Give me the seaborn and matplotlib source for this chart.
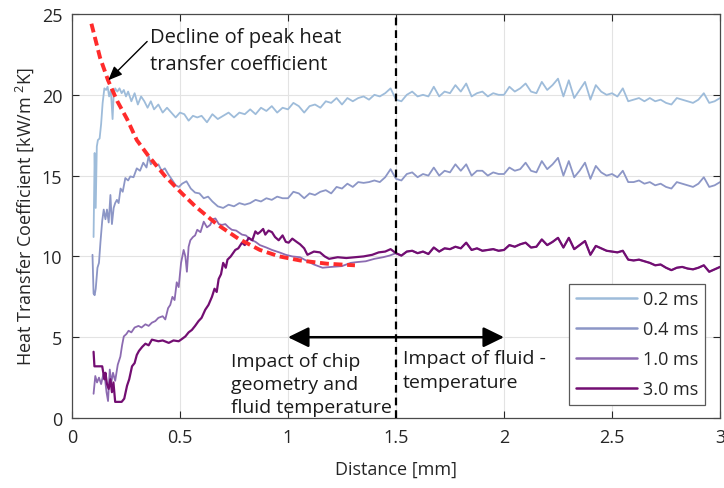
import numpy as np
import pandas as pd
import seaborn as sns
import matplotlib
matplotlib.use("Agg")
import matplotlib.pyplot as plt
from matplotlib.ticker import FuncFormatter

# ---- data ----
series_names = ["0.2 ms", "0.4 ms", "1.0 ms", "3.0 ms"]
series_colors = ["#9ebcda", "#8c96c6", "#8c6bb1", "#730e72"]

# shared x positions for the part right of the 1.5 mm line
dist_tail = [1.500, 1.525, 1.550, 1.575, 1.600, 1.625, 1.650, 1.675, 1.700, 1.725,
             1.750, 1.775, 1.800, 1.825, 1.850, 1.875, 1.900, 1.925, 1.950, 1.975,
             2.000, 2.025, 2.050, 2.075, 2.100, 2.125, 2.150, 2.175, 2.200, 2.225,
             2.250, 2.275, 2.300, 2.325, 2.350, 2.375, 2.400, 2.425, 2.450, 2.475,
             2.500, 2.525, 2.550, 2.575, 2.600, 2.625, 2.650, 2.675, 2.700, 2.725,
             2.750, 2.775, 2.800, 2.825, 2.850, 2.875, 2.900, 2.925, 2.950, 2.975,
             3.000]

# 0.2 ms
dist_02 = [0.100, 0.105, 0.110, 0.115, 0.120, 0.128, 0.135, 0.142, 0.150, 0.158,
           0.165, 0.172, 0.180, 0.188, 0.193, 0.200, 0.210, 0.220, 0.230, 0.240,
           0.250, 0.260, 0.275, 0.290, 0.305, 0.320, 0.335, 0.350, 0.365, 0.380,
           0.400, 0.420, 0.440, 0.460, 0.480, 0.500, 0.520, 0.540, 0.560, 0.580,
           0.600, 0.625, 0.650, 0.675, 0.700, 0.725, 0.750, 0.775, 0.800, 0.825,
           0.850, 0.875, 0.900, 0.925, 0.950, 0.975, 1.000, 1.025, 1.050, 1.075,
           1.100, 1.125, 1.150, 1.175, 1.200, 1.225, 1.250, 1.275, 1.300, 1.325,
           1.350, 1.375, 1.400, 1.425, 1.450, 1.475]
htc_02 = [11.2, 16.4, 13.0, 16.8, 17.2, 17.3, 18.2, 19.5, 20.4, 20.3,
          20.5, 19.9, 20.3, 18.5, 20.0, 20.4, 20.2, 20.4, 20.1, 20.3,
          19.9, 20.2, 19.6, 20.1, 19.4, 19.9, 19.6, 19.2, 19.6, 19.1,
          19.4, 18.9, 19.2, 18.9, 18.6, 18.9, 18.8, 18.4, 18.7, 18.6,
          18.7, 18.3, 18.8, 18.5, 18.7, 18.9, 18.6, 18.9, 18.8, 19.1,
          18.8, 19.2, 19.0, 19.3, 18.9, 19.2, 19.1, 19.5, 19.3, 18.9,
          19.3, 19.4, 19.2, 19.6, 19.5, 19.8, 19.4, 19.8, 19.6, 19.8,
          19.9, 19.7, 20.0, 19.9, 20.1, 20.4]
htc_02_tail = [19.7, 19.6, 20.0, 20.2, 19.9, 20.0, 19.9, 20.5, 19.9, 20.2,
               20.1, 20.6, 20.2, 20.7, 19.9, 20.1, 20.2, 19.9, 20.1, 20.0,
               20.0, 20.5, 20.2, 20.4, 20.7, 20.2, 20.1, 20.8, 20.3, 20.6,
               21.0, 19.9, 20.9, 19.8, 20.3, 20.8, 19.7, 20.6, 20.2, 20.0,
               20.1, 19.9, 20.4, 19.6, 19.7, 19.8, 19.6, 19.8, 19.6, 19.7,
               19.5, 19.4, 19.8, 19.7, 19.6, 19.5, 19.7, 20.1, 19.5, 19.6,
               19.8]

# 0.4 ms
dist_04 = [0.095, 0.100, 0.105, 0.110, 0.118, 0.125, 0.132, 0.140, 0.147, 0.155,
           0.162, 0.170, 0.178, 0.185, 0.193, 0.200, 0.208, 0.216, 0.225, 0.235,
           0.247, 0.260, 0.270, 0.285, 0.300, 0.315, 0.330, 0.345, 0.355, 0.365,
           0.376, 0.390, 0.400, 0.415, 0.430, 0.445, 0.463, 0.480, 0.495, 0.510,
           0.530, 0.550, 0.570, 0.590, 0.610, 0.630, 0.650, 0.675, 0.700, 0.725,
           0.750, 0.775, 0.800, 0.825, 0.850, 0.875, 0.900, 0.925, 0.950, 0.975,
           1.000, 1.025, 1.050, 1.075, 1.100, 1.125, 1.150, 1.175, 1.200, 1.225,
           1.250, 1.275, 1.300, 1.325, 1.350, 1.375, 1.400, 1.425, 1.450, 1.475]
htc_04 = [10.1, 7.7, 7.6, 8.0, 9.3, 9.6, 10.9, 12.2, 12.9, 12.3,
          12.9, 12.1, 13.8, 12.0, 13.0, 13.3, 13.5, 13.3, 14.2, 14.0,
          14.85, 14.7, 14.95, 14.9, 15.45, 15.3, 15.8, 15.5, 16.2, 15.7,
          15.95, 15.6, 15.7, 15.3, 15.45, 15.1, 14.75, 14.4, 14.3, 14.5,
          14.65, 14.2, 13.95, 13.9, 13.6, 13.7, 13.4, 13.1, 13.0, 13.2,
          13.1, 13.3, 13.2, 13.3, 13.5, 13.4, 13.6, 13.5, 13.7, 13.6,
          13.6, 14.0, 13.9, 13.6, 13.9, 13.8, 14.0, 14.1, 13.9, 14.3,
          14.2, 14.5, 14.3, 14.6, 14.55, 14.6, 14.7, 14.6, 14.9, 15.4]
htc_04_tail = [14.8, 14.7, 15.1, 15.2, 14.9, 15.1, 15.0, 15.5, 15.0, 15.3,
               15.2, 15.7, 15.3, 15.7, 15.0, 15.3, 15.3, 15.0, 15.2, 15.1,
               15.1, 15.5, 15.3, 15.4, 15.8, 15.3, 15.2, 15.9, 15.4, 15.7,
               16.1, 15.0, 15.9, 14.9, 15.3, 15.8, 14.8, 15.6, 15.2, 15.0,
               15.1, 14.9, 15.3, 14.6, 14.6, 14.7, 14.5, 14.6, 14.4, 14.5,
               14.3, 14.2, 14.6, 14.5, 14.4, 14.3, 14.5, 14.9, 14.3, 14.4,
               14.6]

# 1.0 ms
dist_10 = [0.100, 0.108, 0.116, 0.125, 0.135, 0.145, 0.154, 0.160, 0.167, 0.175,
           0.182, 0.190, 0.200, 0.212, 0.224, 0.232, 0.240, 0.252, 0.262, 0.275,
           0.290, 0.308, 0.322, 0.340, 0.355, 0.370, 0.386, 0.400, 0.420, 0.432,
           0.445, 0.455, 0.465, 0.475, 0.485, 0.494, 0.505, 0.517, 0.525, 0.532,
           0.540, 0.548, 0.560, 0.570, 0.580, 0.595, 0.610, 0.625, 0.640, 0.652,
           0.664, 0.680, 0.694, 0.710, 0.725, 0.740, 0.760, 0.787, 0.805, 0.826,
           0.850, 0.870, 0.900, 0.926, 0.960, 0.990, 1.020, 1.056, 1.090, 1.120,
           1.160, 1.200, 1.250, 1.290, 1.320, 1.360, 1.400, 1.440, 1.470]
htc_10 = [1.5, 2.6, 2.2, 2.5, 2.1, 2.7, 2.3, 1.6, 1.05, 3.0,
          2.2, 2.8, 2.3, 3.3, 3.8, 4.5, 5.05, 5.2, 5.4, 5.3,
          5.6, 5.7, 5.6, 5.8, 5.7, 5.9, 6.0, 6.2, 6.3, 6.1,
          6.8, 7.0, 7.5, 7.3, 8.4, 8.1, 9.6, 10.4, 10.0, 9.05,
          10.6, 11.0, 11.2, 11.3, 11.65, 11.5, 12.15, 11.8, 11.95, 12.3,
          12.35, 12.0, 11.95, 12.0, 11.8, 11.65, 11.6, 11.35, 11.3, 11.05,
          10.9, 10.7, 10.55, 10.4, 10.25, 10.1, 10.0, 9.95, 9.7, 9.5,
          9.3, 9.35, 9.4, 9.6, 9.65, 9.7, 9.85, 9.95, 10.05]

# 3.0 ms (1.0 ms lies under it right of 1.5 mm)
dist_30 = [0.100, 0.104, 0.110, 0.120, 0.130, 0.140, 0.150, 0.155, 0.162, 0.170,
           0.178, 0.185, 0.192, 0.200, 0.215, 0.230, 0.242, 0.255, 0.265, 0.278,
           0.290, 0.300, 0.310, 0.325, 0.340, 0.355, 0.370, 0.385, 0.400, 0.420,
           0.448, 0.470, 0.494, 0.510, 0.525, 0.540, 0.555, 0.570, 0.586, 0.600,
           0.617, 0.632, 0.648, 0.660, 0.670, 0.679, 0.690, 0.700, 0.712, 0.720,
           0.735, 0.756, 0.770, 0.787, 0.800, 0.818, 0.835, 0.849, 0.860, 0.870,
           0.885, 0.895, 0.910, 0.926, 0.940, 0.957, 0.975, 0.990, 1.003, 1.020,
           1.040, 1.056, 1.075, 1.090, 1.120, 1.148, 1.170, 1.190, 1.230, 1.270,
           1.310, 1.350, 1.390, 1.420, 1.450, 1.475]
htc_30 = [4.1, 3.2, 3.2, 3.2, 3.2, 3.2, 2.4, 2.8, 2.1, 1.8,
          2.4, 1.6, 2.2, 1.0, 1.0, 1.0, 1.2, 2.0, 2.4, 3.2,
          3.4, 3.9, 4.15, 4.4, 4.6, 4.5, 4.85, 4.8, 4.75, 4.8,
          4.65, 4.8, 4.75, 4.9, 5.05, 5.3, 5.45, 5.7, 6.0, 6.2,
          6.7, 7.0, 7.5, 8.0, 7.8, 8.6, 8.9, 9.6, 9.3, 9.8,
          10.0, 10.4, 10.5, 10.85, 10.7, 11.15, 11.0, 11.55, 11.4, 11.5,
          11.7, 11.35, 11.6, 11.5, 11.2, 11.0, 11.3, 10.9, 10.85, 11.1,
          10.9, 10.75, 10.5, 10.1, 10.3, 10.25, 10.0, 9.85, 9.95, 9.9,
          9.95, 10.0, 10.1, 10.25, 10.3, 10.45]
htc_30_tail = [10.2, 10.05, 10.3, 10.35, 10.2, 10.3, 10.15, 10.55, 10.3, 10.5,
               10.45, 10.6, 10.5, 10.85, 10.4, 10.5, 10.35, 10.4, 10.45, 10.35,
               10.4, 10.7, 10.6, 10.75, 10.85, 10.55, 10.6, 11.05, 10.7, 10.9,
               11.15, 10.55, 11.15, 10.45, 10.7, 10.95, 10.1, 10.65, 10.5, 10.35,
               10.3, 10.25, 10.35, 9.8, 9.75, 9.8, 9.7, 9.6, 9.45, 9.5,
               9.3, 9.15, 9.3, 9.35, 9.25, 9.2, 9.3, 9.45, 9.05, 9.2,
               9.35]

# decline of peak heat transfer coefficient (red dashed guide)
peak_dist = [0.09, 0.13, 0.167, 0.21, 0.255, 0.30, 0.355, 0.432, 0.509, 0.571,
             0.67, 0.77, 0.87, 0.96, 1.056, 1.18, 1.31]
peak_htc = [24.4, 22.3, 20.9, 19.6, 18.5, 17.2, 16.2, 14.95, 13.9, 13.1,
            12.0, 11.1, 10.4, 10.0, 9.75, 9.55, 9.45]

# ---- long table for seaborn ----
parts = [
    (series_names[0], dist_02 + dist_tail, htc_02 + htc_02_tail),
    (series_names[1], dist_04 + dist_tail, htc_04 + htc_04_tail),
    (series_names[2], dist_10 + dist_tail, htc_10 + htc_30_tail),
    (series_names[3], dist_30 + dist_tail, htc_30 + htc_30_tail),
]
frames = []
for name, xs, ys in parts:
    assert len(xs) == len(ys), (name, len(xs), len(ys))
    frames.append(pd.DataFrame({"dist": xs, "htc": ys, "series": name}))
df = pd.concat(frames, ignore_index=True)

sns.set_theme(style="whitegrid")
plt.rcParams["font.family"] = ["Open Sans", "DejaVu Sans"]
plt.rcParams["mathtext.fontset"] = "custom"
plt.rcParams["mathtext.rm"] = "Open Sans"
FS = 13      # ticks, axis labels, legend
FS_TXT = 14  # annotations

fig = plt.figure(figsize=(7.24, 4.89), dpi=100)
ax = fig.add_axes([0.0994, 0.1431, 0.8951, 0.8262])

palette = dict(zip(series_names, series_colors))
sns.lineplot(data=df, x="dist", y="htc", hue="series", hue_order=series_names,
             palette=palette, estimator=None, sort=False, ax=ax, linewidth=1.3)
for ln, name in zip(ax.get_lines(), series_names):
    if name == "3.0 ms":
        ln.set_linewidth(1.6)

# red dashed guide
ax.plot(peak_dist, peak_htc, color="#ff2b2b", lw=2.8, linestyle=(0, (2.3, 1.2)),
        zorder=5, solid_capstyle="butt", dash_capstyle="butt")
# vertical separation line
ax.axvline(1.5, color="black", lw=1.6, linestyle=(0, (3.5, 2.2)), zorder=6)

# double arrow
ax.annotate("", xy=(2.0, 5.0), xytext=(1.0, 5.0),
            arrowprops=dict(arrowstyle="<|-|>,head_length=0.45,head_width=0.22",
                            color="black", lw=1.8, mutation_scale=28,
                            shrinkA=0, shrinkB=0), zorder=7)
ax.text(0.736, 2.1, "Impact of chip\ngeometry and\nfluid temperature",
        ha="left", va="center", fontsize=FS_TXT, linespacing=1.37, color="#1a1a1a")
ax.text(1.532, 2.97, "Impact of fluid -\ntemperature",
        ha="left", va="center", fontsize=FS_TXT, linespacing=1.37, color="#1a1a1a")

# peak annotation
ax.text(0.362, 22.75, "Decline of peak heat\ntransfer coefficient",
        ha="left", va="center", fontsize=14.5, linespacing=1.42, color="#1a1a1a")
ax.annotate("", xy=(0.168, 20.9), xytext=(0.348, 23.3),
            arrowprops=dict(arrowstyle="-|>,head_length=0.6,head_width=0.25",
                            color="black", lw=1.0, mutation_scale=14,
                            shrinkA=0, shrinkB=0), zorder=7)

ax.set_xlim(0, 3)
ax.set_ylim(0, 25)
ax.set_xticks([0, 0.5, 1, 1.5, 2, 2.5, 3])
ax.set_yticks([0, 5, 10, 15, 20, 25])
ax.xaxis.set_major_formatter(FuncFormatter(lambda v, p: f"{v:g}"))
ax.set_xlabel("Distance [mm]", fontsize=FS, color="#262626", labelpad=10)
ax.set_ylabel("Heat Transfer Coefficient [kW/m$^{\\ 2}$K]", fontsize=FS,
              color="#262626", labelpad=4)
ax.tick_params(axis="both", which="both", direction="in", length=5, width=0.8,
               colors="#262626", labelsize=FS, top=True, right=True,
               bottom=True, left=True, pad=7)
ax.grid(True, color="#e3e3e3", lw=0.8)
for sp in ax.spines.values():
    sp.set_color("#4a4a4a")
    sp.set_linewidth(0.9)

leg = ax.legend(loc="lower right", bbox_to_anchor=(0.977, 0.032), fontsize=FS,
                handlelength=3.4, labelspacing=0.66, handletextpad=0.3,
                borderpad=0.38, borderaxespad=0, frameon=True, fancybox=False,
                framealpha=1)
leg.get_frame().set_edgecolor("#5a5a5a")
leg.get_frame().set_linewidth(0.9)
for h in leg.get_lines():
    h.set_linewidth(1.8)

fig.savefig("out.png", dpi=100)
